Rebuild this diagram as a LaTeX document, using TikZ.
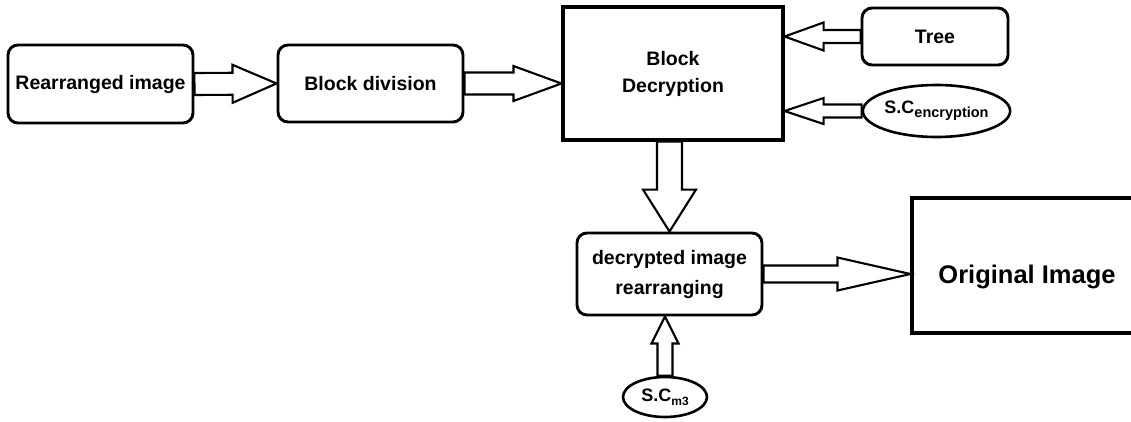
\documentclass[tikz,border=0pt]{standalone}
\usepackage{fontspec}
\setmainfont{Liberation Sans}
\usetikzlibrary{calc,shapes.geometric}

% hollow block arrow between two points: #1 shaft width, #2 head width, #3 head length
\tikzset{
  barrow/.style n args={3}{draw=black, fill=white, line width=2.1pt, line join=miter,
    to path={let \p1=(\tikztostart), \p2=(\tikztotarget),
      \n1={atan2(\y2-\y1,\x2-\x1)}, \n2={veclen(\x2-\x1,\y2-\y1)} in
      ($(\p1)+(\n1+90:{#1*0.5pt})$)
      -- ($(\p1)+(\n1:{(\n2-#3)*1pt})+(\n1+90:{#1*0.5pt})$)
      -- ($(\p1)+(\n1:{(\n2-#3)*1pt})+(\n1+90:{#2*0.5pt})$)
      -- (\p2)
      -- ($(\p1)+(\n1:{(\n2-#3)*1pt})+(\n1-90:{#2*0.5pt})$)
      -- ($(\p1)+(\n1:{(\n2-#3)*1pt})+(\n1-90:{#1*0.5pt})$)
      -- ($(\p1)+(\n1-90:{#1*0.5pt})$) -- cycle}},
  boxtext/.style={font=\bfseries\fontsize{19.5}{27}\selectfont, align=center, inner sep=0pt},
  rbox/.style={boxtext, draw=black, line width=2.9pt, rounded corners=10pt},
  sbox/.style={boxtext, draw=black, line width=3.1pt},
  ebox/.style={boxtext, draw=black, line width=2.6pt, ellipse, inner sep=0pt},
}

\begin{document}
\begin{tikzpicture}[x=1pt, y=-1pt]
  \useasboundingbox (0,0) rectangle (1131,421);

  % blocks
  \node[rbox, minimum width=185pt, minimum height=78pt] (rearr) at (100.5,84) {Rearranged image};
  \node[rbox, minimum width=185pt, minimum height=77pt] (blockdiv) at (370.5,83.5) {Block division};
  \node[sbox, minimum width=220pt, minimum height=133pt] (dec) at (673,73.5) {Block\\Decryption};
  \node[rbox, minimum width=146pt, minimum height=57pt] (tree) at (935,36.5) {Tree};
  \node[ebox, minimum width=147pt, minimum height=52pt] (scenc) at (936.5,111)
    {\fontsize{18}{18}\selectfont S.C\raisebox{-4pt}{\fontsize{14.5}{14.5}\selectfont encryption}};
  \node[rbox, minimum width=185pt, minimum height=82pt, font=\bfseries\fontsize{19.5}{30}\selectfont]
    (rearr2) at (669.5,274) {decrypted image\\rearranging};
  \node[sbox, minimum width=236pt, minimum height=135pt] (orig) at (1030,265.5) {};
  \node[boxtext, font=\bfseries\fontsize{25.5}{30}\selectfont] (origtext) at (1027,277) {Original Image};
  \node[ebox, minimum width=84pt, minimum height=40pt] (scm) at (665,397)
    {\fontsize{18}{18}\selectfont S.C\raisebox{-4pt}{\fontsize{12}{12}\selectfont m3}};

  % connectors
  \draw[barrow={22}{38}{44}] (rearr.east) to (blockdiv.west);
  \draw[barrow={22}{35}{48}] (blockdiv.east) to (blockdiv.east -| dec.west);
  \draw[barrow={13}{28}{39}] (tree.west) to (tree.west -| dec.east);
  \draw[barrow={13}{26}{39}] (scenc.west) to (scenc.west -| dec.east);
  \draw[barrow={25}{53}{42}] (rearr2.north |- dec.south) to (rearr2.north);
  \draw[barrow={17}{33}{73}] (rearr2.east) to (rearr2.east -| orig.west);
  \draw[barrow={15}{27}{27}] (scm.north) to (scm.north |- rearr2.south);
\end{tikzpicture}
\end{document}
